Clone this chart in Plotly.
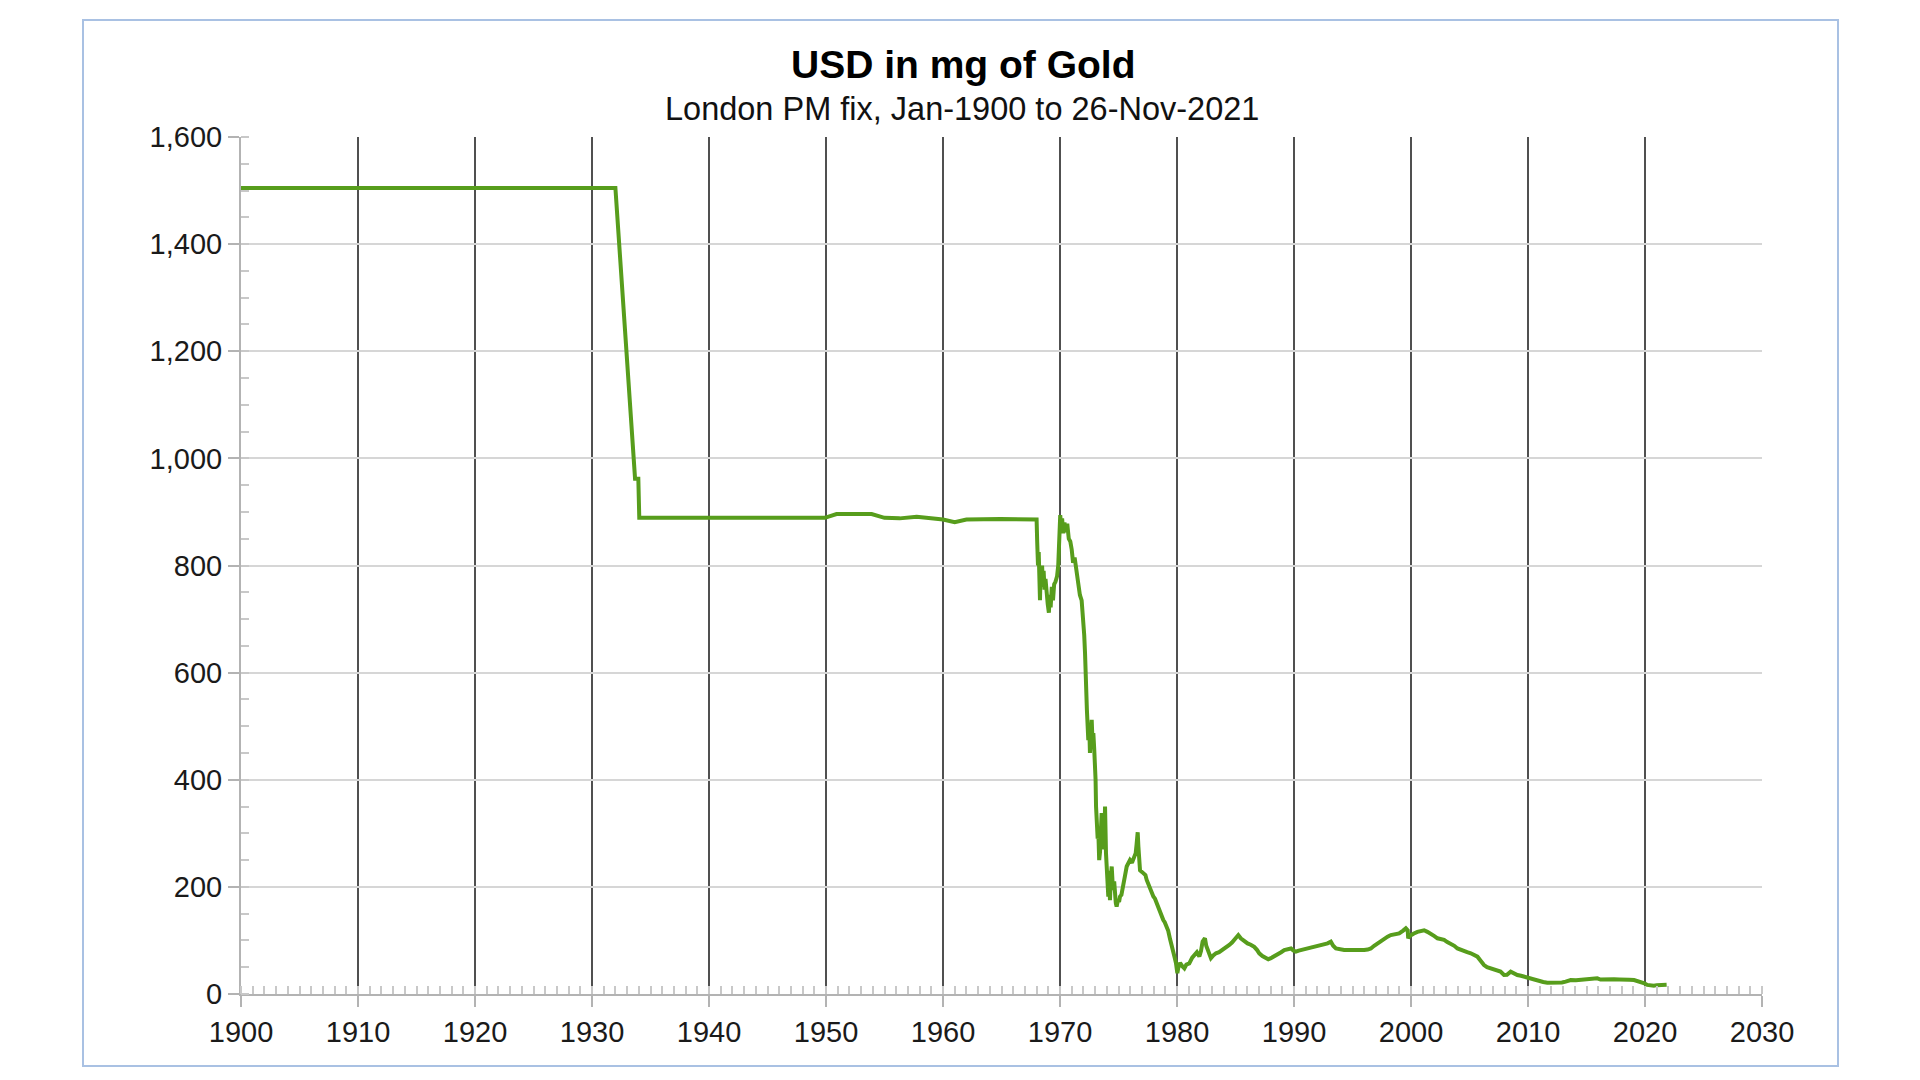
import plotly.graph_objects as go

# --- 1. DATA (decimal year, USD expressed in mg of gold) ---
years = [
    1900.0, 1932.0, 1933.68, 1933.96, 1934.04, 1949.9, 1950.9, 1953.9, 1955.0, 1956.3,
    1957.75, 1958.9, 1960.0, 1961.0, 1962.0, 1964.9, 1968.0,
    1968.05, 1968.12, 1968.18, 1968.24, 1968.29, 1968.34, 1968.40, 1968.47, 1968.53,
    1968.60, 1968.68, 1968.76, 1968.85, 1968.95, 1969.05, 1969.12, 1969.20, 1969.30,
    1969.40, 1969.50, 1969.62, 1969.75, 1969.85, 1969.93, 1970.02, 1970.10, 1970.18,
    1970.28, 1970.38, 1970.50, 1970.62, 1970.75, 1970.88, 1971.00, 1971.12, 1971.25,
    1971.40, 1971.55, 1971.70, 1971.85, 1971.99, 1972.07, 1972.14, 1972.22, 1972.30,
    1972.42, 1972.50, 1972.56, 1972.64, 1972.71, 1972.78, 1972.85, 1972.93, 1972.99,
    1973.04, 1973.08, 1973.15, 1973.22, 1973.28, 1973.35, 1973.42, 1973.49, 1973.56,
    1973.62, 1973.70, 1973.78, 1973.85, 1973.93, 1974.00, 1974.07, 1974.13, 1974.20,
    1974.27, 1974.34, 1974.42, 1974.49, 1974.56, 1974.63, 1974.70, 1974.77, 1974.84,
    1974.95, 1975.05, 1975.13, 1975.25, 1975.41, 1975.55, 1975.70, 1975.85, 1975.98,
    1976.15, 1976.27, 1976.40, 1976.47, 1976.55, 1976.64, 1976.70, 1976.75, 1976.84,
    1977.00, 1977.12, 1977.30, 1977.41, 1977.55, 1977.69, 1977.85, 1977.98, 1978.12,
    1978.26, 1978.40, 1978.55, 1978.70, 1978.83, 1978.95, 1979.12, 1979.25, 1979.40,
    1979.55, 1979.69, 1979.80, 1979.91, 1980.03, 1980.12, 1980.26, 1980.45, 1980.63,
    1980.80, 1981.05, 1981.30, 1981.48, 1981.70, 1981.91, 1982.05, 1982.19, 1982.39,
    1982.50, 1982.62, 1982.78, 1982.90, 1983.10, 1983.33, 1983.60, 1983.90, 1984.20,
    1984.47, 1984.70, 1984.90, 1985.10, 1985.24, 1985.45, 1985.61, 1985.80, 1986.03,
    1986.30, 1986.60, 1986.85, 1987.03, 1987.30, 1987.60, 1987.80, 1988.03, 1988.30,
    1988.60, 1988.90, 1989.17, 1989.45, 1989.74, 1989.95, 1990.16, 1990.40, 1990.59,
    1990.90, 1991.16, 1991.45, 1991.73, 1992.00, 1992.30, 1992.60, 1992.87, 1993.15,
    1993.35, 1993.58, 1993.90, 1994.29, 1994.70, 1995.14, 1995.60, 1996.00, 1996.30,
    1996.57, 1996.85, 1997.14, 1997.45, 1997.71, 1998.00, 1998.27, 1998.60, 1998.99,
    1999.30, 1999.56, 1999.72, 1999.76, 1999.85, 1999.98, 2000.25, 2000.55, 2000.85,
    2001.12, 2001.40, 2001.69, 2002.00, 2002.26, 2002.55, 2002.83, 2003.10, 2003.40,
    2003.70, 2003.97, 2004.25, 2004.54, 2004.80, 2005.11, 2005.40, 2005.68, 2005.95,
    2006.24, 2006.50, 2006.81, 2007.10, 2007.38, 2007.65, 2007.95, 2008.20, 2008.52,
    2008.80, 2009.09, 2009.40, 2009.66, 2009.95, 2010.23, 2010.60, 2010.94, 2011.30,
    2011.65, 2012.10, 2012.51, 2012.90, 2013.22, 2013.65, 2014.10, 2014.50, 2014.95,
    2015.35, 2015.92, 2016.20, 2016.49, 2016.90, 2017.35, 2017.80, 2018.20, 2018.65,
    2019.06, 2019.35, 2019.62, 2019.95, 2020.19, 2020.50, 2020.76, 2021.00, 2021.27,
    2021.55, 2021.85,
]

usd_mg = [
    1504.8, 1504.8, 962, 962, 889, 889, 896, 896, 889, 888,
    891, 888, 886, 881, 886, 887, 886,
    845, 800, 825, 770, 735, 790, 760, 800, 765,
    790, 755, 775, 740, 728, 712, 745, 722, 760,
    735, 765, 770, 780, 800, 880, 894, 872, 888,
    860, 880, 862, 878, 850, 845, 830, 805, 815,
    790, 770, 745, 735, 700, 670, 636, 560, 530,
    474, 500, 450, 495, 512, 470, 487, 455, 437,
    400, 350, 330, 290, 300, 250, 265, 300, 338,
    290, 310, 270, 350, 263, 230, 210, 182, 230,
    175, 215, 238, 210, 194, 210, 182, 170, 163,
    175, 172, 182, 185, 200, 220, 238, 245, 250,
    245, 252, 258, 263, 280, 302, 275, 263, 231,
    228, 225, 222, 213, 205, 196, 188, 182, 178,
    170, 160, 151, 143, 138, 134, 126, 118, 103,
    92, 76, 68, 58, 39, 50, 58, 52, 48,
    55, 57, 68, 73, 78, 70, 80, 98, 104,
    90, 82, 72, 67, 72, 76, 78, 82, 87,
    91.5, 96, 101, 106, 110, 104, 101, 98, 94.5,
    92, 88, 82, 76, 71, 67, 65, 67, 70,
    73, 78, 82, 84, 85, 81, 79, 81, 82,
    84, 85, 86, 88, 90, 91.5, 93, 94.5, 97.7,
    90, 85, 83, 82, 82, 82, 81, 82, 83,
    85, 90, 94.5, 99, 104, 107, 110, 111, 113,
    118, 122.6, 119, 104, 108, 110, 113, 116, 117,
    119, 116, 113, 108, 104, 103, 101, 97, 94.5,
    90, 85, 82, 79, 78, 76, 73, 69.7, 62,
    54, 50, 48, 47, 44.8, 42, 35.5, 36, 41.7,
    38, 35.5, 34, 32.4, 29, 28, 26, 24.3, 22.5,
    21.2, 21, 21.2, 21.5, 23, 26, 25.5, 26, 26.5,
    27.4, 29.3, 27, 27.4, 26.5, 27.4, 27, 27.4, 26.5,
    26, 24.5, 23, 20, 17, 16, 15.5, 16.5, 17,
    17.5, 17.5,
]

title_text = "USD in mg of Gold"
subtitle_text = "London PM fix, Jan-1900 to 26-Nov-2021"

# --- 2. KHUNG / PLOT AREA ---
# target pixels measured on the 1920x1080 screenshot; the html page adds an 8px
# body margin, so the figure itself is shifted back by that amount
OFF = 8
W, H = 1920 - 2 * OFF, 1080 - 2 * OFF
PL, PR, PT, PB = 241 - OFF, 1762 - OFF, 137 - OFF, 994 - OFF
pw, ph = PR - PL, PB - PT

def px(x):
    return (x - OFF - PL) / pw

def py(y):
    return (PB - (y - OFF)) / ph

FONT = "Liberation Sans, Arial, sans-serif"

# --- 3. FIGURE ---
fig = go.Figure()

fig.add_trace(go.Scatter(
    x=years, y=usd_mg,
    mode="lines", line=dict(color="#579d1c", width=4),
    name="USD in mg of Gold", hoverinfo="x+y"
))

# outer frame of the chart
fig.add_shape(
    type="rect", xref="paper", yref="paper",
    x0=px(83), x1=px(1838), y0=py(1066), y1=py(20),
    line=dict(color="#a9c1e3", width=2), layer="below"
)

fig.add_annotation(
    text="<b>" + title_text + "</b>", xref="paper", yref="paper",
    x=px(963), y=py(64), xanchor="center", yanchor="middle", showarrow=False,
    font=dict(family=FONT, size=39, color="#000000")
)
fig.add_annotation(
    text=subtitle_text, xref="paper", yref="paper",
    x=px(962), y=py(109), xanchor="center", yanchor="middle", showarrow=False,
    font=dict(family=FONT, size=32.5, color="#111111")
)

axis_common = dict(
    showline=True, linecolor="#b3b3b3", linewidth=2,
    ticks="outside", ticklen=11, tickwidth=2, tickcolor="#b3b3b3",
    zeroline=False, showgrid=True, gridwidth=2,
    tickfont=dict(family=FONT, size=29, color="#1a1a1a"),
)

fig.update_layout(
    width=W, height=H,
    margin=dict(l=PL, r=W - PR, t=PT, b=H - PB),
    paper_bgcolor="white", plot_bgcolor="white",
    showlegend=False,
    font=dict(family=FONT),
    xaxis=dict(
        range=[1900, 2030], tick0=1900, dtick=10, tickformat="d",
        gridcolor="#505050",
        minor=dict(dtick=1, ticks="inside", ticklen=8, tickwidth=2,
                   tickcolor="#c8c8c8", showgrid=False),
        **axis_common
    ),
    yaxis=dict(
        range=[0, 1600], tick0=0, dtick=200, tickformat=",d",
        gridcolor="#d6d6d6",
        minor=dict(dtick=50, ticks="inside", ticklen=8, tickwidth=2,
                   tickcolor="#c8c8c8", showgrid=False),
        **axis_common
    ),
)

fig.write_html("out.html")
